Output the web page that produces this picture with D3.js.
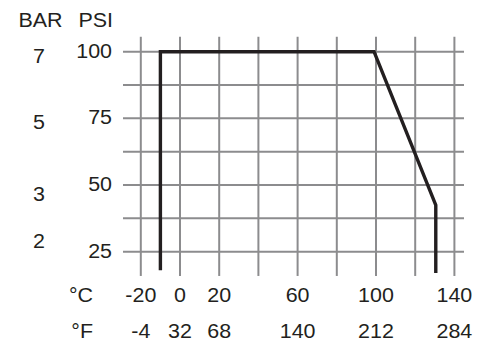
<!DOCTYPE html>
<html>
<head>
<meta charset="utf-8">
<script src="https://cdn.jsdelivr.net/npm/d3@7"></script>
<style>
html,body{margin:0;padding:0;background:#fff;}
svg{display:block;}
</style>
</head>
<body>
<script>
// ---- data ----
const tempC = [-20, 0, 20, 40, 60, 80, 100, 120, 140];          // vertical grid lines
const tempLabelsC = [-20, 0, 20, 60, 100, 140];
const tempLabelsF = ["-4", "32", "68", "140", "212", "284"];
const psiGrid = [100, 87.5, 75, 62.5, 50, 37.5, 25];
const psiLabels = [100, 75, 50, 25];
const barLabels = ["7", "5", "3", "2"];
const barLabelPsi = [98.5, 73.5, 46.6, 29.1];                   // where the bar labels sit, in PSI
const curveC   = [-10, -10, 99, 130.5, 130.5];
const curvePsi = [18, 100, 100, 42.5, 17];

const W = 481, H = 341;
const x = d3.scaleLinear().domain([-20, 140]).range([140.8, 454.4]);
const y = d3.scaleLinear().domain([25, 100]).range([251.7, 51.7]);

const svg = d3.select("body").append("svg").attr("width", W).attr("height", H);

const gridColor = "#8c8c8e", ink = "#231f20";
const FS = 19.5, SX = 1.1;

// grid
svg.append("g").selectAll("line").data(tempC).join("line")
  .attr("x1", d => x(d)).attr("x2", d => x(d))
  .attr("y1", y(105.6)).attr("y2", y(15.9))
  .attr("stroke", gridColor).attr("stroke-width", 2);
svg.append("g").selectAll("line").data(psiGrid).join("line")
  .attr("x1", 123).attr("x2", 464)
  .attr("y1", d => y(d)).attr("y2", d => y(d))
  .attr("stroke", gridColor).attr("stroke-width", 2);

// curve
const pts = curveC.map((c, i) => [x(c), y(curvePsi[i])]);
svg.append("path").attr("d", d3.line()(pts))
  .attr("fill", "none").attr("stroke", ink).attr("stroke-width", 3.4)
  .attr("stroke-linejoin", "miter");

// text helper
function label(txt, px, py, anchor) {
  svg.append("text")
    .attr("transform", `translate(${px},${py}) scale(${SX},1)`)
    .attr("text-anchor", anchor)
    .attr("dy", "0.36em")
    .attr("font-family", "Liberation Sans, Arial, Helvetica, sans-serif")
    .attr("font-size", FS)
    .attr("fill", ink)
    .text(txt);
}

label("BAR", 40.5, 19.5, "middle");
label("PSI", 113, 19.5, "end");
psiLabels.forEach(p => label(String(p), 112, y(p) - 1, "end"));
barLabels.forEach((b, i) => label(b, 39, y(barLabelPsi[i]), "middle"));

label("°C", 93, 295, "end");
label("°F", 93, 330.5, "end");
tempLabelsC.forEach((c, i) => {
  label(String(c), x(c), 295, "middle");
  label(tempLabelsF[i], x(c), 330.5, "middle");
});
</script>
</body>
</html>
